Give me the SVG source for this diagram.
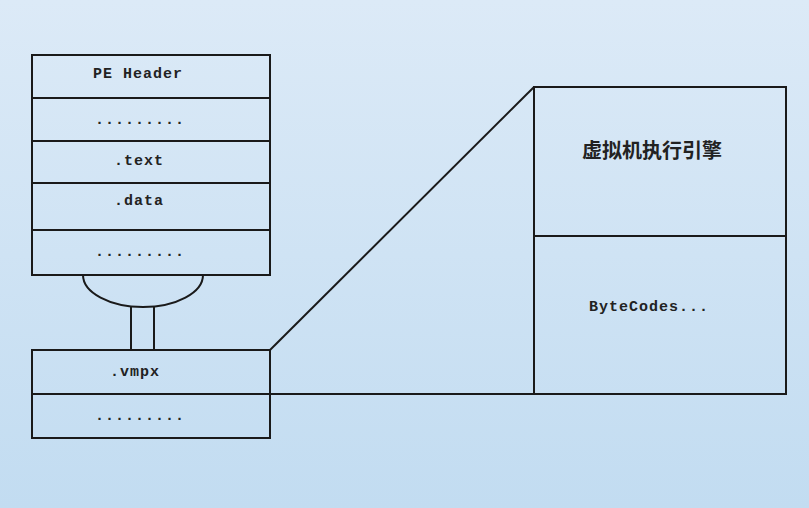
<svg xmlns="http://www.w3.org/2000/svg" width="809" height="508" viewBox="0 0 809 508">
  <defs>
    <linearGradient id="bg" x1="0" y1="0" x2="0" y2="1">
      <stop offset="0" stop-color="#dceaf7"/>
      <stop offset="1" stop-color="#c2dcf1"/>
    </linearGradient>
    <style>
      .box { fill: none; stroke: #1a1a1a; stroke-width: 2; }
      .ln { fill: none; stroke: #1a1a1a; stroke-width: 2; }
      .t { font-family: "Liberation Mono", "DejaVu Sans Mono", monospace; font-weight: bold; font-size: 15px; letter-spacing: 1px; fill: #222; }
      .cjk { font-family: "Noto Sans CJK SC", "Noto Sans", sans-serif; font-weight: bold; font-size: 20px; fill: #222; }
    </style>
  </defs>
  <rect x="0" y="0" width="809" height="508" fill="url(#bg)"/>

  <g id="pe-file">
    <rect class="box" x="32" y="55" width="238" height="220"/>
    <line class="ln" x1="32" y1="98" x2="270" y2="98"/>
    <line class="ln" x1="32" y1="141" x2="270" y2="141"/>
    <line class="ln" x1="32" y1="183" x2="270" y2="183"/>
    <line class="ln" x1="32" y1="230" x2="270" y2="230"/>
    <text class="t" x="93" y="78">PE Header</text>
    <text class="t" x="95" y="124">.........</text>
    <text class="t" x="114" y="165">.text</text>
    <text class="t" x="114" y="205">.data</text>
    <text class="t" x="95" y="256">.........</text>
  </g>

  <g id="magnifier">
    <path class="ln" d="M83,275 A60,32 0 0 0 203,275"/>
    <line class="ln" x1="131" y1="306" x2="131" y2="350"/>
    <line class="ln" x1="154" y1="306" x2="154" y2="350"/>
  </g>

  <g id="vmpx-section">
    <rect class="box" x="32" y="350" width="238" height="88"/>
    <text class="t" x="110" y="376">.vmpx</text>
    <text class="t" x="95" y="420">.........</text>
  </g>

  <g id="vm-engine">
    <rect class="box" x="534" y="87" width="252" height="307"/>
    <line class="ln" x1="534" y1="236" x2="786" y2="236"/>
    <text class="cjk" x="652" y="158" text-anchor="middle">虚拟机执行引擎</text>
    <text class="t" x="589" y="311">ByteCodes...</text>
  </g>

  <g id="connectors">
    <line class="ln" x1="32" y1="394" x2="534" y2="394"/>
    <line class="ln" x1="270" y1="350" x2="534" y2="87"/>
  </g>
</svg>
